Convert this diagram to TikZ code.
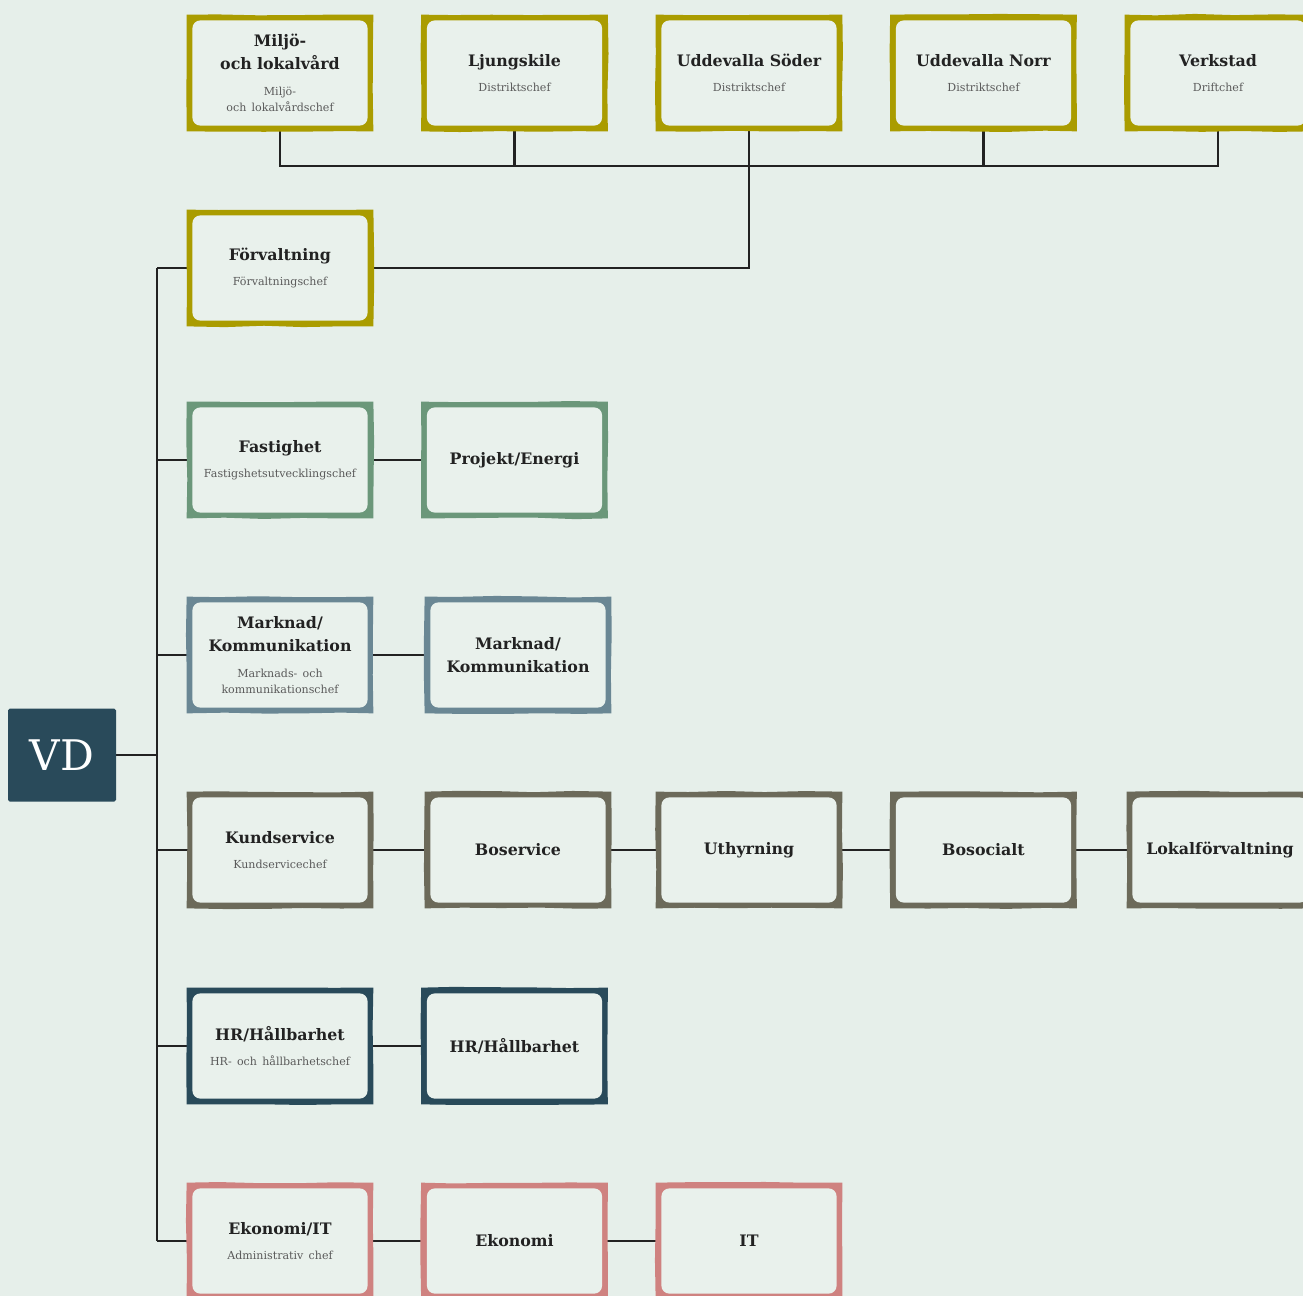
\documentclass[tikz,border=0pt]{standalone}
\usepackage{fontspec}
\setmainfont{DejaVu Serif}
\usetikzlibrary{positioning, calc, backgrounds, decorations.pathmorphing}

\definecolor{bgpaper}{HTML}{E6EFEA}
\definecolor{cardfill}{HTML}{E9F1EC}
\definecolor{colOlive}{HTML}{AA9C00}
\definecolor{colSage}{HTML}{6B977A}
\definecolor{colSlate}{HTML}{6A8794}
\definecolor{colTaupe}{HTML}{6C6A5A}
\definecolor{colPetrol}{HTML}{294A5A}
\definecolor{colRose}{HTML}{CF8280}
\definecolor{ink}{HTML}{222222}
\definecolor{subgray}{HTML}{5A5A5A}

% title + role inside a card
\newcommand{\enhet}[3][1pt]{{\bfseries #2}\\[#1]{\fontsize{6.3}{8}\selectfont\color{subgray}#3}}

\begin{document}
\begin{tikzpicture}[
    card/.style={minimum width=3.6cm, minimum height=2.2cm,
        text width=3.4cm, align=center, text=ink, inner sep=1pt,
        font=\fontsize{9}{13}\selectfont},
    unit/.style={card, font=\fontsize{9}{13}\selectfont\bfseries},
    rim/.style={fill=#1, decorate, decoration={random steps, segment length=22pt, amplitude=0.45pt}},
    inner/.style={fill=cardfill, rounded corners=4.5pt},
    link/.style={draw=ink, line width=1.4pt}
]
\pgfmathsetseed{11}
\useasboundingbox (0,0) rectangle (26.06,-25.92);

% VD
\node[fill=colPetrol, rounded corners=1pt, minimum width=2.16cm, minimum height=1.86cm,
      text=white, font=\fontsize{24}{24}\selectfont] (vd) at (1.24,-15.10) {VD};

% Top row (Förvaltning)
\node[card] (miljo) at (5.60,-1.46) {\enhet[6.8pt]{Miljö-\\och lokalvård}{Miljö-\\[-3.5pt]och lokalvårdschef}};
\node[card] (ljung) at (10.29,-1.46) {\enhet{Ljungskile}{Distriktschef}};
\node[card] (usod) at (14.98,-1.46) {\enhet{Uddevalla Söder}{Distriktschef}};
\node[card] (unorr) at (19.67,-1.46) {\enhet{Uddevalla Norr}{Distriktschef}};
\node[card] (verk) at (24.36,-1.46) {\enhet{Verkstad}{Driftchef}};

% Left column
\node[card] (forv) at (5.60,-5.36) {\enhet{Förvaltning}{Förvaltningschef}};
\node[card] (fast) at (5.60,-9.20) {\enhet{Fastighet}{Fastigshetsutvecklingschef}};
\node[card] (mark) at (5.60,-13.10) {\enhet[6.8pt]{Marknad/\\Kommunikation}{Marknads- och\\[-3.5pt]kommunikationschef}};
\node[card] (kund) at (5.60,-17.00) {\enhet{Kundservice}{Kundservicechef}};
\node[card] (hr) at (5.60,-20.92) {\enhet{HR/Hållbarhet}{HR- och hållbarhetschef}};
\node[card] (ekon) at (5.60,-24.82) {\enhet{Ekonomi/IT}{Administrativ chef}};

% Units per row
\node[unit] (proj) at (10.29,-9.20) {Projekt/Energi};
\node[unit] (mark2) at (10.36,-13.10) {Marknad/\\Kommunikation};
\node[unit] (bose) at (10.36,-17.00) {Boservice};
\node[unit] (uthy) at (14.98,-17.00) {Uthyrning};
\node[unit] (boso) at (19.67,-17.00) {Bosocialt};
\node[unit] (lokf) at (24.40,-17.00) {Lokalförvaltning};
\node[unit] (hr2) at (10.29,-20.92) {HR/Hållbarhet};
\node[unit] (ekon2) at (10.29,-24.82) {Ekonomi};
\node[unit] (it) at (14.98,-24.82) {IT};

\begin{scope}[on background layer]
    \fill[bgpaper] (0,0) rectangle (26.06,-25.92);
    \coordinate (spine) at (3.14,0);
    \coordinate (bus) at (0,-3.32);

    % VD and spine
    \draw[link] (vd.east) -- (vd.east -| spine);
    \draw[link] (forv.west -| spine) -- (ekon.west -| spine);
    \foreach \n in {forv,fast,mark,kund,hr,ekon}
        \draw[link] (\n.west) -- (\n.west -| spine);

    % Förvaltning up to the districts
    \draw[link] (forv.east) -| (usod.south);
    \draw[link] (miljo.south) -- (miljo.south |- bus) -- (verk.south |- bus) -- (verk.south);
    \foreach \n in {ljung,unorr}
        \draw[link] (\n.south) -- (\n.south |- bus);

    % rows
    \draw[link] (fast) -- (proj);
    \draw[link] (mark) -- (mark2);
    \draw[link] (kund) -- (bose) -- (uthy) -- (boso) -- (lokf);
    \draw[link] (hr) -- (hr2);
    \draw[link] (ekon) -- (ekon2) -- (it);

    % hand-drawn frames
    \foreach \n/\c in {miljo/colOlive, ljung/colOlive, usod/colOlive, unorr/colOlive, verk/colOlive,
        forv/colOlive, fast/colSage, proj/colSage, mark/colSlate, mark2/colSlate,
        kund/colTaupe, bose/colTaupe, uthy/colTaupe, boso/colTaupe, lokf/colTaupe,
        hr/colPetrol, hr2/colPetrol, ekon/colRose, ekon2/colRose, it/colRose} {
        \fill[rim=\c] ($(\n.north west)+(-0.06,0.06)$) rectangle ($(\n.south east)+(0.06,-0.06)$);
        \fill[inner] ($(\n.north west)+(0.055,-0.055)$) rectangle ($(\n.south east)+(-0.055,0.055)$);
    }
\end{scope}

\end{tikzpicture}
\end{document}
